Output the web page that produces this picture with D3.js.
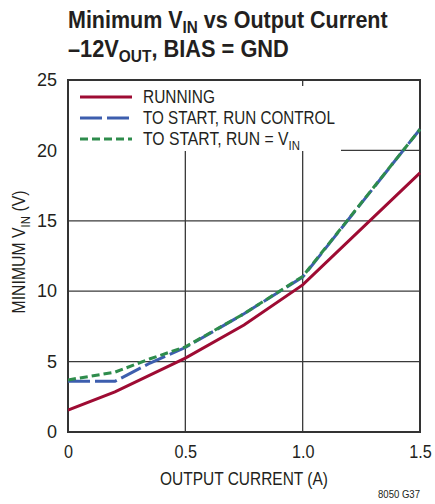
<!DOCTYPE html>
<html><head><meta charset="utf-8">
<script src="https://cdn.jsdelivr.net/npm/d3@7"></script>
<style>
body{margin:0;background:#fff;}
text{font-family:"Liberation Sans",Arial,sans-serif;fill:#231f20;}
</style></head>
<body><svg id="c" width="435" height="504"></svg>
<script>
const xTicks = [0, 0.5, 1.0, 1.5];
const xTickLabels = ["0", "0.5", "1.0", "1.5"];
const yTicks = [0, 5, 10, 15, 20, 25];
const runningX = [0, 0.2, 0.5, 0.75, 1.0, 1.5];
const runningY = [1.55, 2.85, 5.25, 7.6, 10.45, 18.4];
const runCtrlX = [0, 0.2, 0.35, 0.5, 0.75, 1.0, 1.5];
const runCtrlY = [3.6, 3.6, 4.9, 6.0, 8.4, 11.0, 21.5];
const runVinX = [0, 0.2, 0.35, 0.5, 0.75, 1.0, 1.5];
const runVinY = [3.7, 4.25, 5.2, 6.05, 8.4, 11.05, 21.5];
const seriesNames = ["RUNNING", "TO START, RUN CONTROL", "TO START, RUN = V"];

const svg = d3.select("#c");
const L = 68, R = 420, T = 80, B = 432;
const x = d3.scaleLinear().domain([0, 1.5]).range([L, R]);
const y = d3.scaleLinear().domain([0, 25]).range([B, T]);

// horizontally compress a text element to a target width around an anchor x
function fit(sel, target, ax, rot) {
  const w = sel.node().getBBox().width;
  const k = target / w;
  const pre = rot ? rot + " " : "";
  sel.attr("transform", `${pre}translate(${ax},0) scale(${k},1) translate(${-ax},0)`);
}

// title
const t1 = svg.append("text").attr("x", 68).attr("y", 28).attr("font-size", 24).attr("font-weight", "bold");
t1.append("tspan").text("Minimum V");
t1.append("tspan").attr("dy", 5).attr("font-size", 17).text("IN");
t1.append("tspan").attr("dy", -5).text(" vs Output Current");
fit(t1, 320, 68);
const t2 = svg.append("text").attr("x", 68).attr("y", 57).attr("font-size", 24).attr("font-weight", "bold");
t2.append("tspan").text("\u201312V");
t2.append("tspan").attr("dy", 5).attr("font-size", 17).text("OUT");
t2.append("tspan").attr("dy", -5).text(", BIAS = GND");
fit(t2, 221, 68);

// grid
const g = svg.append("g");
g.selectAll(".vg").data(xTicks.slice(1, 3)).join("line")
  .attr("x1", d => x(d)).attr("x2", d => x(d)).attr("y1", T).attr("y2", B)
  .attr("stroke", "#3a3a3a").attr("stroke-width", 1.3);
g.selectAll(".hg").data(yTicks.slice(1, 5)).join("line")
  .attr("x1", L).attr("x2", R).attr("y1", d => y(d)).attr("y2", d => y(d))
  .attr("stroke", "#3a3a3a").attr("stroke-width", 1.3);

// legend backing
svg.append("path").attr("fill", "#fff")
  .attr("d", `M${L+1},${T+1} H296 V86 H341 V151 H${L+1} Z`);

// frame
svg.append("rect").attr("x", L).attr("y", T).attr("width", R - L).attr("height", B - T)
  .attr("fill", "none").attr("stroke", "#333").attr("stroke-width", 2);

// axes labels via d3 axes
const xa = svg.append("g").attr("transform", `translate(0,${B})`)
  .call(d3.axisBottom(x).tickValues(xTicks).tickFormat((d, i) => xTickLabels[i]).tickSize(0).tickPadding(13));
const ya = svg.append("g").attr("transform", `translate(${L},0)`)
  .call(d3.axisLeft(y).tickValues(yTicks).tickSize(0).tickPadding(11));
[xa, ya].forEach(a => { a.select(".domain").remove(); a.selectAll("text").attr("font-size", 18).attr("font-family", null).style("fill", "#231f20"); });
xa.selectAll("text").each(function() { const s = d3.select(this); const cx = +s.attr("x") || 0; s.attr("transform", `scale(0.9,1)`).attr("x", cx / 0.9); });

// series
const colors = ["#9e0b33", "#3d5eae", "#2e8c4c"];
const dashes = [null, "22,5", "8,4"];
const data = [
  runningX.map((d, i) => [d, runningY[i]]),
  runCtrlX.map((d, i) => [d, runCtrlY[i]]),
  runVinX.map((d, i) => [d, runVinY[i]])
];
const line = d3.line().x(d => x(d[0])).y(d => y(d[1]));
svg.append("clipPath").attr("id", "cp").append("rect").attr("x", L).attr("y", T).attr("width", R - L + 1).attr("height", B - T);
svg.append("g").attr("clip-path", "url(#cp)").selectAll("path").data(data).join("path")
  .attr("d", line).attr("fill", "none").attr("stroke", (d, i) => colors[i])
  .attr("stroke-width", 3).attr("stroke-dasharray", (d, i) => dashes[i]);

// legend
const ly = [97, 118, 139];
const lw = [72, 192, 157];
const lg = svg.append("g");
seriesNames.forEach((n, i) => {
  lg.append("line").attr("x1", 80).attr("x2", 132).attr("y1", ly[i]).attr("y2", ly[i])
    .attr("stroke", colors[i]).attr("stroke-width", 3).attr("stroke-dasharray", dashes[i]);
  const tx = lg.append("text").attr("x", 143).attr("y", ly[i] + 6.5).attr("font-size", 18);
  tx.append("tspan").text(n);
  if (i === 2) tx.append("tspan").attr("dy", 5).attr("font-size", 13).text("IN");
  fit(tx, lw[i], 143);
});

// axis titles
const xt = svg.append("text").attr("x", 244).attr("y", 485).attr("text-anchor", "middle").attr("font-size", 18).text("OUTPUT CURRENT (A)");
fit(xt, 168, 244);
const yt = svg.append("text").attr("x", 0).attr("y", 0).attr("text-anchor", "middle").attr("font-size", 18);
yt.append("tspan").text("MINIMUM V");
yt.append("tspan").attr("dy", 5).attr("font-size", 13).text("IN");
yt.append("tspan").attr("dy", -5).text(" (V)");
fit(yt, 123, 0, "translate(25,252) rotate(-90)");

const ft = svg.append("text").attr("x", 420).attr("y", 498).attr("text-anchor", "end").attr("font-size", 11).text("8050 G37");
fit(ft, 42, 420);
</script></body></html>
